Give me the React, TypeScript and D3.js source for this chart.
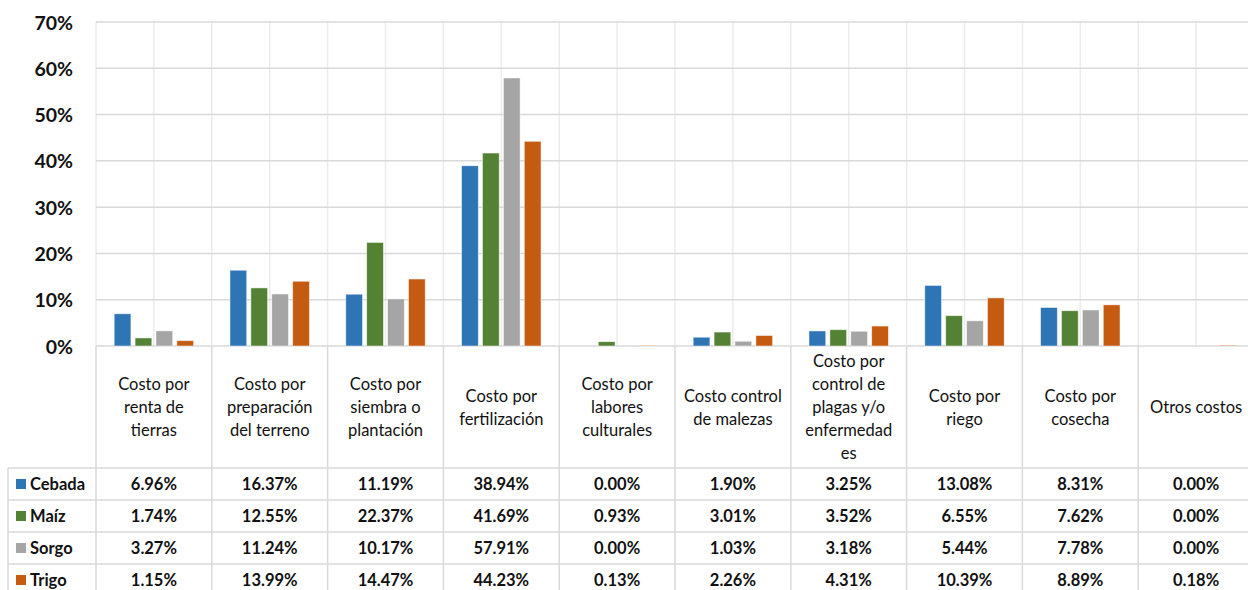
import * as d3 from "d3";
import React from "react";

// categorias (cabecera de la tabla, ya partidas en renglones)
const categorias = [
  "Costo por renta de tierras",
  "Costo por preparación del terreno",
  "Costo por siembra o plantación",
  "Costo por fertilización",
  "Costo por labores culturales",
  "Costo control de malezas",
  "Costo por control de plagas y/o enfermedades",
  "Costo por riego",
  "Costo por cosecha",
  "Otros costos",
];
const renglones = [
  ["Costo por", "renta de", "tierras"],
  ["Costo por", "preparación", "del terreno"],
  ["Costo por", "siembra o", "plantación"],
  ["Costo por", "fertilización"],
  ["Costo por", "labores", "culturales"],
  ["Costo control", "de malezas"],
  ["Costo por", "control de", "plagas y/o", "enfermedad", "es"],
  ["Costo por", "riego"],
  ["Costo por", "cosecha"],
  ["Otros costos"],
];

const series = ["Cebada", "Maíz", "Sorgo", "Trigo"];
const cebada = [6.96, 16.37, 11.19, 38.94, 0.0, 1.9, 3.25, 13.08, 8.31, 0.0];
const maiz = [1.74, 12.55, 22.37, 41.69, 0.93, 3.01, 3.52, 6.55, 7.62, 0.0];
const sorgo = [3.27, 11.24, 10.17, 57.91, 0.0, 1.03, 3.18, 5.44, 7.78, 0.0];
const trigo = [1.15, 13.99, 14.47, 44.23, 0.13, 2.26, 4.31, 10.39, 8.89, 0.18];
const valores = [cebada, maiz, sorgo, trigo];
const colores = ["#2E75B6", "#548235", "#A5A5A5", "#C55A11"];
const ticks = [0, 10, 20, 30, 40, 50, 60, 70];

const W = 1248;
const H = 590;
const FONT = "Lato, 'Open Sans', sans-serif";

export default function App() {
  const margin = { left: 96, right: 1254, top: 22, bottom: 346 };
  const tablaTop = 346;
  const filaTop = 468;
  const filaH = 32;
  const legendLeft = 8;

  const x = d3.scaleBand().domain(categorias).range([margin.left, margin.right]).padding(0);
  const bw = x.bandwidth();
  const xs = d3.scaleBand().domain(series).range([0, bw]).paddingInner(0.2).paddingOuter(0.87);
  const y = d3.scaleLinear().domain([0, 70]).range([margin.bottom, margin.top]);

  const grid = "#d9d9d9";
  const gridV = "#ececec";
  const ink = "#111";

  return (
    <svg width={W} height={H} style={{ position: "absolute", left: 0, top: 0, background: "#fff" }}>
      {/* rejilla vertical del area de trazado */}
      {categorias.map((c) => (
        <g key={"gv" + c}>
          <line x1={x(c)!} x2={x(c)!} y1={y(70)} y2={y(0)} stroke={gridV} strokeWidth={1.5} />
          <line x1={x(c)! + bw / 2} x2={x(c)! + bw / 2} y1={y(70)} y2={y(0)} stroke={gridV} strokeWidth={1.5} />
        </g>
      ))}
      {/* rejilla horizontal */}
      {ticks.map((t) => (
        <line key={"gh" + t} x1={margin.left} x2={margin.right} y1={y(t)} y2={y(t)} stroke={grid} strokeWidth={1.5} />
      ))}
      {/* etiquetas eje Y */}
      {ticks.map((t) => (
        <text key={"yt" + t} x={73} y={y(t)} textAnchor="end" dominantBaseline="central"
          fontFamily={FONT} fontWeight="bold" fontSize={19.5} fill={ink}>
          {t + "%"}
        </text>
      ))}
      {/* barras */}
      {series.map((s, si) =>
        categorias.map((c, ci) => {
          const v = valores[si][ci];
          if (v <= 0) return null;
          return (
            <rect key={s + c} x={x(c)! + xs(s)!} y={y(v)} width={xs.bandwidth()} height={y(0) - y(v)}
              fill={colores[si]} stroke="#ffffff" strokeOpacity={0.6} strokeWidth={0.8} />
          );
        })
      )}
      {/* tabla de datos: lineas */}
      {categorias.map((c) => (
        <line key={"tv" + c} x1={x(c)!} x2={x(c)!} y1={tablaTop} y2={H} stroke={grid} strokeWidth={1.5} />
      ))}
      <line x1={legendLeft} x2={legendLeft} y1={filaTop} y2={H} stroke={grid} strokeWidth={1.5} />
      {series.map((s, i) => (
        <line key={"th" + s} x1={legendLeft} x2={margin.right} y1={filaTop + i * filaH} y2={filaTop + i * filaH}
          stroke={grid} strokeWidth={1.5} />
      ))}
      {/* cabeceras */}
      {categorias.map((c, ci) => {
        const lines = renglones[ci];
        const cy = (tablaTop + filaTop) / 2;
        const lh = 23;
        return (
          <text key={"hd" + c} fontFamily={FONT} fontSize={16.5} fill={ink} textAnchor="middle">
            {lines.map((l, li) => (
              <tspan key={li} x={x(c)! + bw / 2} y={cy + (li - (lines.length - 1) / 2) * lh} dominantBaseline="central">
                {l}
              </tspan>
            ))}
          </text>
        );
      })}
      {/* leyenda y valores */}
      {series.map((s, si) => {
        const cy = filaTop + si * filaH + filaH / 2;
        return (
          <g key={"row" + s}>
            <rect x={16} y={cy - 5} width={10} height={10} fill={colores[si]} />
            <text x={30} y={cy} dominantBaseline="central" fontFamily={FONT} fontWeight="bold" fontSize={16.5} fill={ink}>
              {s}
            </text>
            {categorias.map((c, ci) => (
              <text key={c} x={x(c)! + bw / 2} y={cy} textAnchor="middle" dominantBaseline="central"
                fontFamily={FONT} fontWeight="bold" fontSize={16.5} fill={ink}>
                {valores[si][ci].toFixed(2) + "%"}
              </text>
            ))}
          </g>
        );
      })}
    </svg>
  );
}
